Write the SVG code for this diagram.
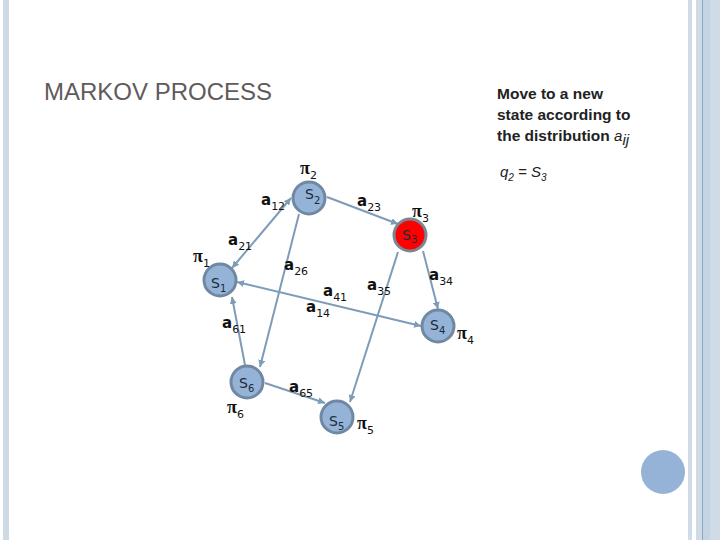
<svg xmlns="http://www.w3.org/2000/svg" width="720" height="540" viewBox="0 0 720 540">
<defs>
<style>
.node{fill:#95b3d7;stroke:#7088a2;stroke-width:3}
.red{fill:#ff0000;stroke:#7a8596;stroke-width:3}
.edge{stroke:#7e9bb8;stroke-width:2;fill:none}
.sl{font-family:"DejaVu Sans",sans-serif;font-size:14px;fill:#1a2a3a}
.ss{font-size:10px}
.al{font-family:"DejaVu Sans",sans-serif;font-weight:bold;font-size:15px;fill:#111}
.as{font-weight:normal;font-size:11px}
.pl{font-family:"Liberation Serif",serif;font-weight:bold;font-size:18px;fill:#111}
.ps{font-family:"DejaVu Sans",sans-serif;font-weight:normal;font-size:11px}
.title{font-family:"Liberation Sans",Arial,sans-serif;font-size:24px;fill:#625a5a}
.note{font-family:"Liberation Sans",Arial,sans-serif;font-weight:bold;font-size:15.5px;fill:#222}
.it{font-family:"Liberation Sans",Arial,sans-serif;font-style:italic;font-weight:normal;font-size:15px;fill:#222}
</style>
<marker id="arr" viewBox="0 0 8 8" refX="8" refY="4" markerWidth="7" markerHeight="7" markerUnits="userSpaceOnUse" orient="auto-start-reverse">
<path d="M0,0 L8,4 L0,8 z" fill="#7e9bb8"/>
</marker>
</defs>
<rect width="720" height="540" fill="#ffffff"/>
<g id="decor">
<rect x="3" y="0" width="6" height="540" fill="#cddae6"/>
<rect x="688" y="0" width="4" height="540" fill="#cfdce7"/>
<rect x="696" y="0" width="24" height="540" fill="#cfdce7"/>
<rect x="703" y="0" width="7" height="540" fill="#c4d4e2"/>
<rect x="702" y="0" width="1" height="540" fill="#8ea8c3"/>
<circle cx="663" cy="472" r="22" fill="#95b3d7"/>
</g>
<text class="title" x="44" y="100">MARKOV PROCESS</text>
<g id="note">
<text class="note" x="497" y="99">Move to a new</text>
<text class="note" x="497" y="120">state according to</text>
<text class="note" x="497" y="141">the distribution <tspan class="it">a</tspan><tspan class="it" font-size="10" dy="4">ij</tspan></text>
<text class="it" x="500" y="177">q<tspan font-size="10" dy="4">2</tspan><tspan dy="-4"> = S</tspan><tspan font-size="10" dy="4">3</tspan></text>
</g>
<g id="connectors">
<line class="edge" x1="232" y1="268" x2="291" y2="198" marker-start="url(#arr)" marker-end="url(#arr)"/>
<line class="edge" x1="327" y1="197" x2="398" y2="224" marker-end="url(#arr)"/>
<line class="edge" x1="299" y1="214" x2="260" y2="367" marker-end="url(#arr)"/>
<line class="edge" x1="237" y1="282" x2="421" y2="326" marker-start="url(#arr)" marker-end="url(#arr)"/>
<line class="edge" x1="423" y1="251" x2="438" y2="309" marker-end="url(#arr)"/>
<line class="edge" x1="398" y1="252" x2="350" y2="402" marker-end="url(#arr)"/>
<line class="edge" x1="245" y1="365" x2="232" y2="297" marker-end="url(#arr)"/>
<line class="edge" x1="265" y1="383" x2="325" y2="403" marker-end="url(#arr)"/>
</g>
<g id="S1"><circle class="node" cx="220" cy="280" r="16"/><text class="sl" x="211" y="288">S<tspan class="ss" dy="4">1</tspan></text></g>
<g id="S2"><circle class="node" cx="309" cy="198" r="16"/><text class="sl" x="305" y="199">S<tspan class="ss" dy="5">2</tspan></text></g>
<g id="S3"><circle class="red" cx="410" cy="235" r="16"/><text class="sl" x="402" y="240">S<tspan class="ss" dy="3">3</tspan></text></g>
<g id="S4"><circle class="node" cx="438" cy="326" r="16"/><text class="sl" x="430" y="330">S<tspan class="ss" dy="4">4</tspan></text></g>
<g id="S5"><circle class="node" cx="337" cy="417" r="16"/><text class="sl" x="329" y="426">S<tspan class="ss" dy="4">5</tspan></text></g>
<g id="S6"><circle class="node" cx="247" cy="382" r="16"/><text class="sl" x="239" y="388">S<tspan class="ss" dy="4">6</tspan></text></g>
<g id="labels">
<text class="al" x="261" y="205">a<tspan class="as" dy="5">12</tspan></text>
<text class="al" x="228" y="245">a<tspan class="as" dy="5">21</tspan></text>
<text class="al" x="284" y="270">a<tspan class="as" dy="5">26</tspan></text>
<text class="al" x="357" y="206">a<tspan class="as" dy="5">23</tspan></text>
<text class="al" x="429" y="280">a<tspan class="as" dy="5">34</tspan></text>
<text class="al" x="367" y="290">a<tspan class="as" dy="5">35</tspan></text>
<text class="al" x="323" y="296">a<tspan class="as" dy="5">41</tspan></text>
<text class="al" x="306" y="312">a<tspan class="as" dy="5">14</tspan></text>
<text class="al" x="222" y="328">a<tspan class="as" dy="5">61</tspan></text>
<text class="al" x="289" y="392">a<tspan class="as" dy="5">65</tspan></text>
<text class="pl" x="300" y="174">π<tspan class="ps" dy="5">2</tspan></text>
<text class="pl" x="193" y="262">π<tspan class="ps" dy="5">1</tspan></text>
<text class="pl" x="412" y="217">π<tspan class="ps" dy="5">3</tspan></text>
<text class="pl" x="457" y="339">π<tspan class="ps" dy="5">4</tspan></text>
<text class="pl" x="227" y="413">π<tspan class="ps" dy="5">6</tspan></text>
<text class="pl" x="357" y="429">π<tspan class="ps" dy="5">5</tspan></text>
</g>
</svg>
